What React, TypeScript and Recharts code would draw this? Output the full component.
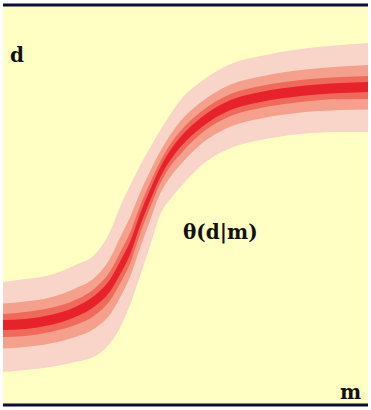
import React from "react";
import { ComposedChart, Area, XAxis, YAxis, CartesianGrid, ReferenceLine } from "recharts";

// model variable m (horizontal) sample positions
const mValues = [0, 22, 47, 72, 92, 107, 117, 127, 137, 147, 157, 167, 177, 197, 227, 257, 297, 337, 364];
// band edges in data units d
const outerUpper = [123, 126, 130, 140, 151, 174, 199, 220, 240, 258, 275, 291, 305, 323, 341, 349, 356, 360, 362];
const outerLower = [33, 35, 38, 43, 49, 62, 78, 101, 130, 160, 191, 206, 218, 239, 257, 265, 271, 273, 273];
const midUpper = [101.5, 103.5, 107.5, 116.5, 128, 147, 168, 188.5, 213, 234.5, 254, 270.5, 284, 302.5, 320.5, 328.5, 335, 338.5, 340];
const midLower = [56.5, 58, 61.5, 68, 77, 91, 108, 129, 158, 185.5, 212, 228, 240.5, 260.5, 278.5, 286.5, 292.5, 295, 295.5];
const innerUpper = [91, 93, 97, 105, 117, 134, 153, 173, 200, 223, 244, 261, 274, 293, 311, 319, 325, 328, 329];
const innerLower = [68, 69, 73, 80, 90, 105, 122, 142, 172, 198, 222, 239, 251, 271, 289, 297, 303, 306, 306];
const coreUpper = [85, 86, 90, 98, 110, 126, 144, 164, 192, 216, 238, 255, 268, 287, 305, 313, 319, 322, 323];
const coreLower = [75, 76, 80, 88, 99, 114, 131, 151, 180, 205, 228, 245, 258, 277, 295, 303, 309, 312, 313];

const axisLabelD = "d";
const axisLabelM = "m";
const curveLabel = "θ(d|m)";

const data = mValues.map((m, i) => ({
  m,
  outer: [outerLower[i], outerUpper[i]],
  mid: [midLower[i], midUpper[i]],
  inner: [innerLower[i], innerUpper[i]],
  core: [coreLower[i], coreUpper[i]],
}));

const W = 371;
const H = 410;
const textStyle: React.CSSProperties = {
  fontFamily: "'DejaVu Serif', serif",
  fontWeight: "bold",
  fill: "#111111",
};

export default function App() {
  return (
    <div style={{ position: "absolute", left: 0, top: 0, width: W, height: H, background: "#ffffff" }}>
      <ComposedChart width={W} height={H} data={data} margin={{ top: 5, right: 3, bottom: 5, left: 3 }}>
        <CartesianGrid fill="#ffffc4" stroke="none" horizontal={false} vertical={false} />
        <XAxis type="number" dataKey="m" domain={[0, 364]} hide />
        <YAxis type="number" domain={[0, 400]} hide allowDataOverflow />
        <Area type="monotone" dataKey="outer" stroke="none" fill="#f9d4c8" fillOpacity={1} isAnimationActive={false} />
        <Area type="monotone" dataKey="mid" stroke="none" fill="#f4a08c" fillOpacity={1} isAnimationActive={false} />
        <Area type="monotone" dataKey="inner" stroke="none" fill="#ef6a5a" fillOpacity={1} isAnimationActive={false} />
        <Area type="monotone" dataKey="core" stroke="none" fill="#e8222a" fillOpacity={1} isAnimationActive={false} />
        <ReferenceLine y={400} stroke="#0c0c3a" strokeWidth={3} />
        <ReferenceLine y={0} stroke="#0c0c3a" strokeWidth={3} />
      </ComposedChart>
      <svg width={W} height={H} style={{ position: "absolute", left: 0, top: 0, pointerEvents: "none" }}>
        <text x={10} y={62} fontSize={20} style={textStyle}>{axisLabelD}</text>
        <text x={183} y={239} fontSize={20} style={textStyle}>{curveLabel}</text>
        <text x={340} y={399} fontSize={20} style={textStyle}>{axisLabelM}</text>
      </svg>
    </div>
  );
}
